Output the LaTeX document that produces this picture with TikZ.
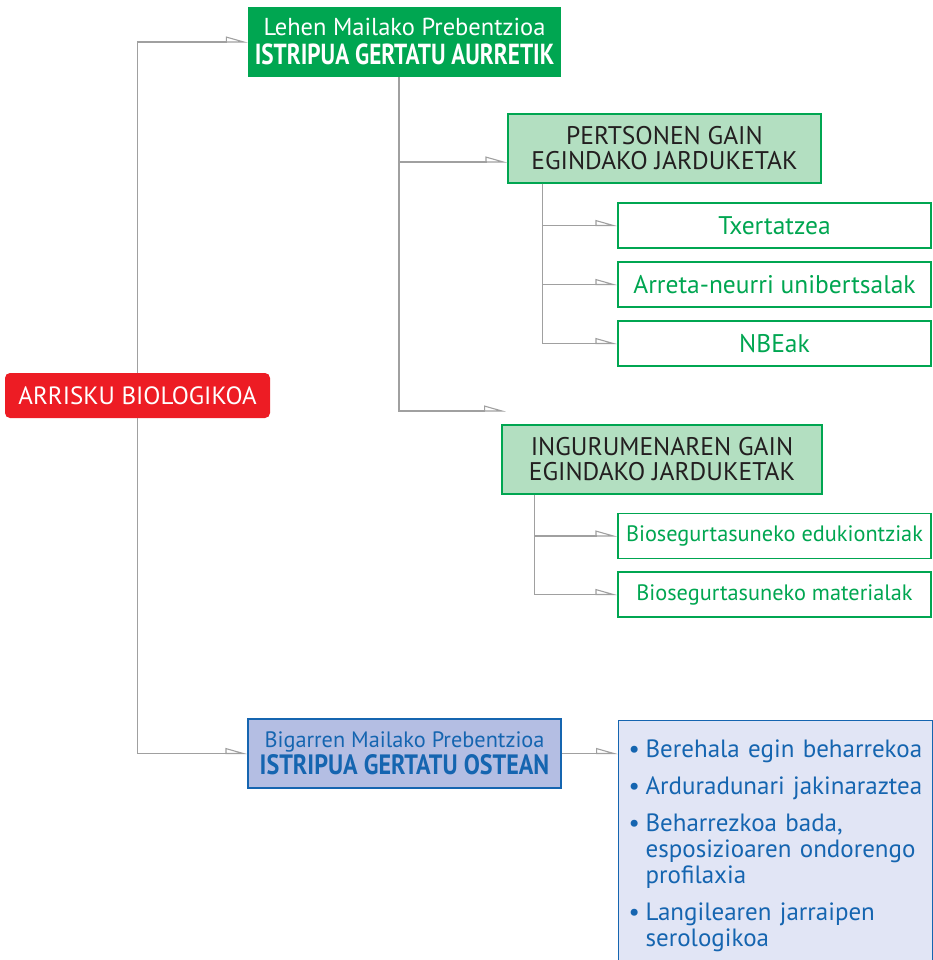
\documentclass[tikz,border=0pt]{standalone}
\usepackage{fontspec}
\setmainfont{PT Sans}
\newfontfamily\estufont{PT Sans}[FakeStretch=0.8]
\newfontfamily\erdiestufont{PT Sans}[FakeStretch=0.86]
\usetikzlibrary{arrows.meta}
\definecolor{berdea}{RGB}{0,166,81}
\definecolor{berdeargia}{RGB}{179,223,193}
\definecolor{gorria}{RGB}{237,28,36}
\definecolor{urdina}{RGB}{21,101,176}
\definecolor{urdinargia}{RGB}{180,190,227}
\definecolor{urdinzurbila}{RGB}{225,229,245}
\definecolor{grisa}{RGB}{160,160,160}
\definecolor{iluna}{RGB}{35,31,32}
\begin{document}
\begin{tikzpicture}[x=1pt,y=-1pt]
		% Estiloak
		\tikzstyle{lotura}=[-{Triangle[open,left,length=20pt,width=11pt]},draw=grisa,line width=1.1pt]
		\tikzstyle{arriskua}=[fill=gorria,text=white,rounded corners=5pt,minimum width=265pt,minimum height=45pt,font=\fontsize{25}{27}\selectfont]
		\tikzstyle{lehena}=[fill=berdea,text=white,align=center,minimum width=313pt,minimum height=70pt,inner sep=0pt,font=\fontsize{24.5}{29}\selectfont]
		\tikzstyle{bigarrena}=[fill=urdinargia,draw=urdina,line width=1.2pt,text=urdina,align=center,minimum width=313pt,minimum height=69pt,inner sep=0pt,font=\fontsize{22.3}{27}\selectfont]
		\tikzstyle{multzoa}=[fill=berdeargia,draw=berdea,line width=1.2pt,text=iluna,align=center,minimum height=69pt,inner sep=0pt,font=\fontsize{25.5}{25}\selectfont]
		\tikzstyle{hostoa}=[fill=white,draw=berdea,line width=1.2pt,text=berdea,minimum width=313pt,minimum height=45pt,inner sep=0pt,font=\fontsize{25.5}{26}\selectfont]
		\tikzstyle{hostoestua}=[hostoa,font=\fontsize{22.3}{24}\selectfont]
		\tikzstyle{zerrenda}=[fill=urdinzurbila,draw=urdina,line width=1.2pt,text=urdina,anchor=north west,text width=294pt,inner xsep=10pt,inner ysep=8pt,minimum height=250pt,font=\fontsize{25}{26}\selectfont]
		% Neurriak
		\def\ZutabeA{137.5}
		\def\ZutabeB{404.5}
		\def\ZutabeC{664.5}
		\def\ZutabeD{774.5}
		\def\Item#1{\hangindent=17pt\hangafter=1\noindent\makebox[17pt][l]{\textbullet}#1\par}
		\useasboundingbox (0,0) rectangle (932,960);
		% Nodoak
		\node[arriskua] (Arriskua) at ({\ZutabeA},395.5) {ARRISKU BIOLOGIKOA};
		\node[lehena] (Lehena) at ({\ZutabeB},42) {Lehen Mailako Prebentzioa\\{\fontsize{29}{30}\estufont\bfseries ISTRIPUA GERTATU AURRETIK}};
		\node[bigarrena] (Bigarrena) at ({\ZutabeB},753.5) {Bigarren Mailako Prebentzioa\\{\fontsize{28}{29}\erdiestufont\bfseries ISTRIPUA GERTATU OSTEAN}};
		%
		\node[multzoa,minimum width=313pt] (Pertsonak) at ({\ZutabeC},148.5) {PERTSONEN GAIN\\EGINDAKO JARDUKETAK};
		\node[hostoa] (Txertatzea) at ({\ZutabeD},225.5) {Txertatzea};
		\node[hostoa] (Arreta) at ({\ZutabeD},284.5) {Arreta-neurri unibertsalak};
		\node[hostoa] (NBE) at ({\ZutabeD},343.5) {NBEak};
		%
		\node[multzoa,minimum width=320pt] (Ingurumena) at (662,459.5) {INGURUMENAREN GAIN\\EGINDAKO JARDUKETAK};
		\node[hostoestua] (Edukiontziak) at ({\ZutabeD},536) {Biosegurtasuneko edukiontziak};
		\node[hostoestua] (Materialak) at ({\ZutabeD},594.5) {Biosegurtasuneko materialak};
		%
		\node[zerrenda] (Zerrenda) at (618,720) {\setlength{\parskip}{11pt}\raggedright
			\Item{Berehala egin beharrekoa}
			\Item{Arduradunari jakinaraztea}
			\Item{Beharrezkoa bada, esposizioaren ondorengo profilaxia}
			\Item{Langilearen jarraipen serologikoa}};
		\coordinate (IngGezia) at (506,411);
		% Loturak
		\draw[lotura] (Arriskua.north) |- (Lehena.west);
		\draw[lotura] (Arriskua.south) |- (Bigarrena.west);
		\draw[lotura] ([xshift=-5.5pt]Lehena.south) |- ([yshift=-13.5pt]Pertsonak.west);
		\draw[lotura] ([xshift=-5.5pt]Lehena.south) |- (IngGezia);
		\draw[lotura] ([xshift=35pt]Pertsonak.south west) |- (Txertatzea.west);
		\draw[lotura] ([xshift=35pt]Pertsonak.south west) |- (Arreta.west);
		\draw[lotura] ([xshift=35pt]Pertsonak.south west) |- (NBE.west);
		\draw[lotura] ([xshift=33pt]Ingurumena.south west) |- (Edukiontziak.west);
		\draw[lotura] ([xshift=33pt]Ingurumena.south west) |- (Materialak.west);
		\draw[lotura] (Bigarrena.east) -- (Bigarrena.east -| Zerrenda.west);
	\end{tikzpicture}
\end{document}
